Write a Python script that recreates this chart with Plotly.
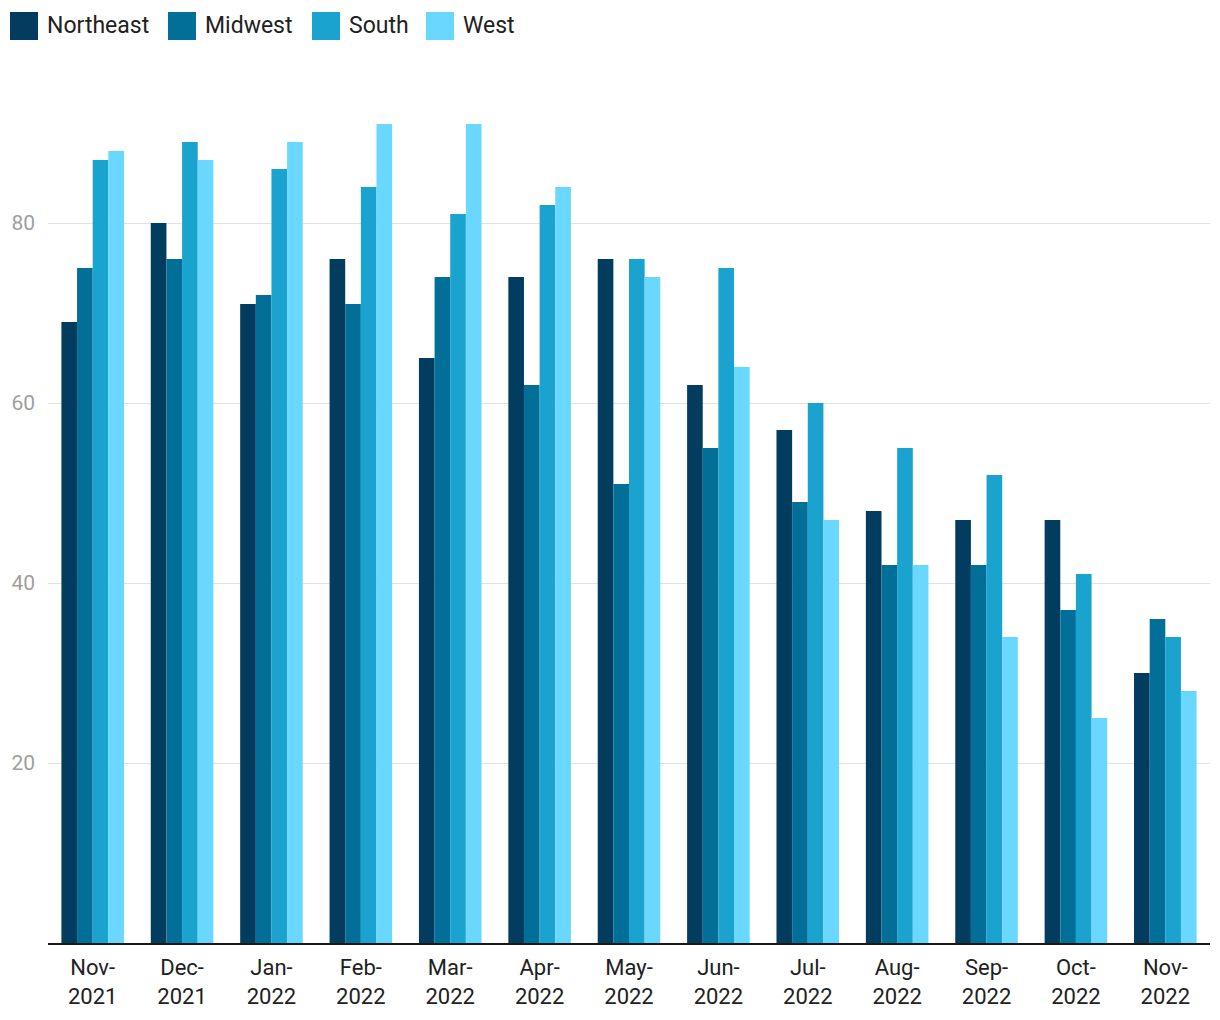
import plotly.graph_objects as go

months = ["Nov-<br>2021", "Dec-<br>2021", "Jan-<br>2022", "Feb-<br>2022", "Mar-<br>2022",
          "Apr-<br>2022", "May-<br>2022", "Jun-<br>2022", "Jul-<br>2022", "Aug-<br>2022",
          "Sep-<br>2022", "Oct-<br>2022", "Nov-<br>2022"]

northeast = [69, 80, 71, 76, 65, 74, 76, 62, 57, 48, 47, 47, 30]
midwest = [75, 76, 72, 71, 74, 62, 51, 55, 49, 42, 42, 37, 36]
south = [87, 89, 86, 84, 81, 82, 76, 75, 60, 55, 52, 41, 34]
west = [88, 87, 89, 91, 91, 84, 74, 64, 47, 42, 34, 25, 28]

series = [("Northeast", northeast, "#023d60"),
          ("Midwest", midwest, "#026f98"),
          ("South", south, "#1aa3cf"),
          ("West", west, "#6ad7fe")]

y_ticks = [20, 40, 60, 80]

# page has an 8px body margin; size the figure so it fits the 1220x1020 window
OFF = 8
W, H = 1220 - OFF, 1020 - OFF
ML, MR, MT, MB = 48 - OFF, 10, 43 - OFF, 77
PW, PH = W - ML - MR, H - MT - MB


def px_x(px):
    return (px - OFF - ML) / PW


def px_y(py):
    return (H - MB - (py - OFF)) / PH


fig = go.Figure()
for name, vals, color in series:
    fig.add_trace(go.Bar(x=months, y=vals, name=name, marker_color=color,
                         marker_line_width=0, showlegend=False))

# custom legend (large square swatches like the reference)
legend_left = [10, 168, 312, 426]
shapes = []
annotations = []
for (name, vals, color), lx in zip(series, legend_left):
    shapes.append(dict(type="rect", xref="paper", yref="paper",
                       x0=px_x(lx), x1=px_x(lx + 28), y0=px_y(40), y1=px_y(12),
                       fillcolor=color, line=dict(width=0)))
    annotations.append(dict(text=name, xref="paper", yref="paper",
                            x=px_x(lx + 35), y=px_y(26), xanchor="left", yanchor="middle",
                            showarrow=False, font=dict(size=23, color="#212121")))

fig.update_layout(
    width=W, height=H,
    margin=dict(l=ML, r=MR, t=MT, b=MB),
    paper_bgcolor="white", plot_bgcolor="white",
    barmode="group", bargap=0.3, bargroupgap=0,
    font=dict(family="Roboto", size=20, color="#212121"),
    showlegend=False,
    shapes=shapes, annotations=annotations,
    xaxis=dict(showline=True, linecolor="#1a1a1a", linewidth=2, ticks="",
               tickfont=dict(size=22, color="#212121"), showgrid=False,
               automargin=False, ticklabelstandoff=4),
    yaxis=dict(range=[0, 100], tickvals=y_ticks, showgrid=True, gridcolor="#e2e2e2",
               gridwidth=1, zeroline=False, showline=False, automargin=False,
               tickfont=dict(size=21, color="#9e9e9e"), ticklabelstandoff=12),
)

fig.write_html("out.html")
